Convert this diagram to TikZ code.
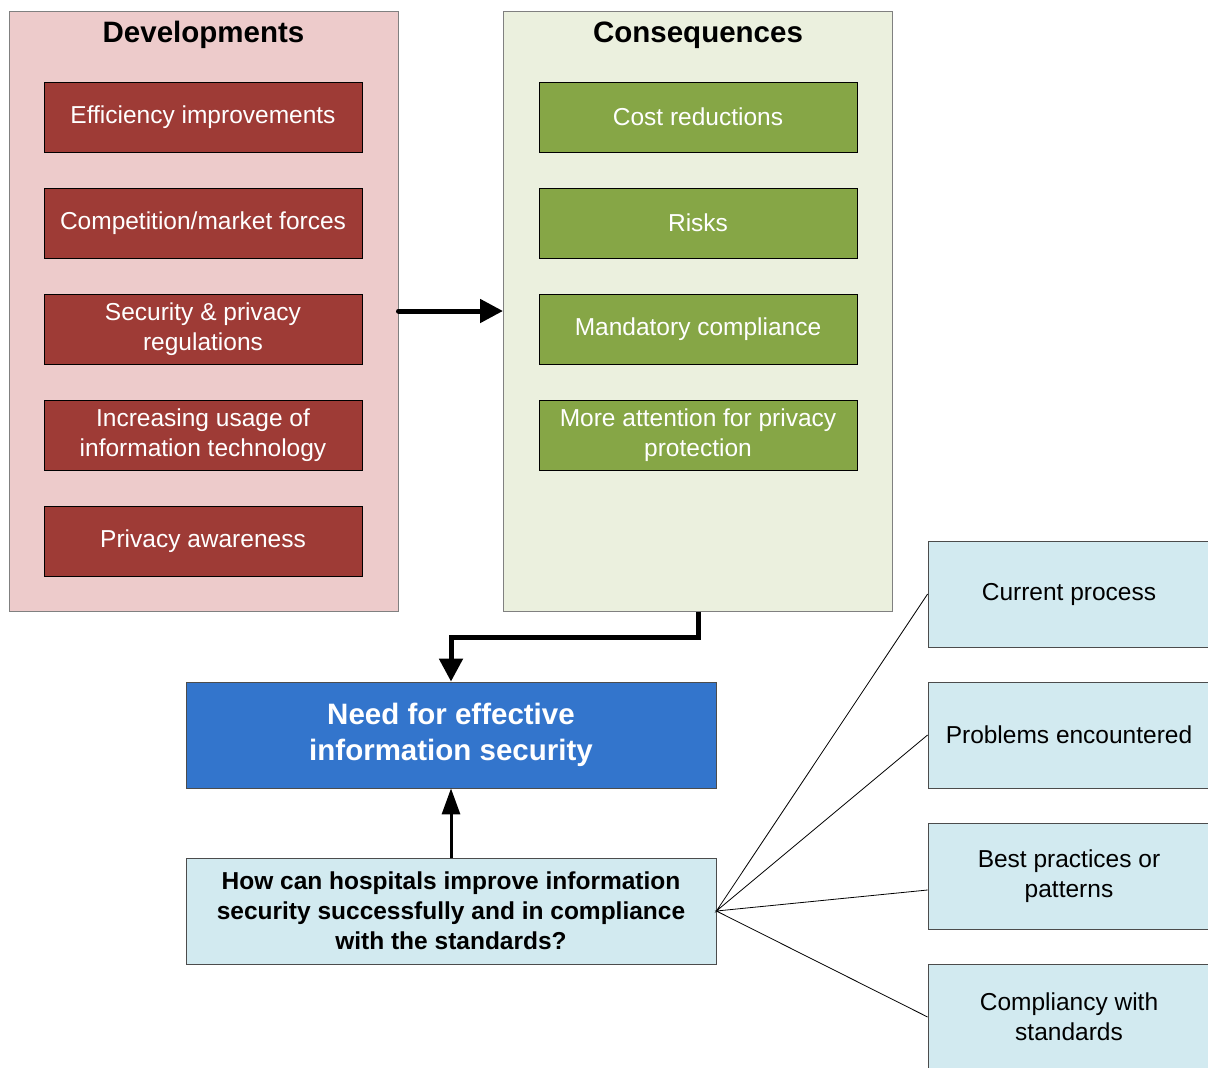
\documentclass[tikz,border=0pt]{standalone}
\usepackage{fontspec}
\setmainfont{Liberation Sans}
\usetikzlibrary{arrows.meta}

\definecolor{panelred}{RGB}{237,203,203}
\definecolor{boxred}{RGB}{158,59,54}
\definecolor{panelgreen}{RGB}{235,240,222}
\definecolor{boxgreen}{RGB}{134,166,70}
\definecolor{boxblue}{RGB}{51,117,204}
\definecolor{lightblue}{RGB}{210,234,240}

\begin{document}
\begin{tikzpicture}[x=1pt,y=-1pt,
  panel/.style={draw=black!50,line width=1pt,minimum width=389pt,minimum height=600pt,inner sep=0pt},
  ptitle/.style={font=\fontsize{29.5}{34}\selectfont\bfseries},
  devbox/.style={draw=black,line width=0.8pt,fill=boxred,text=white,minimum width=318pt,minimum height=70pt,align=center,inner sep=0pt,font=\fontsize{24.5}{30}\selectfont},
  conbox/.style={devbox,fill=boxgreen},
  topic/.style={draw=black!70,line width=0.8pt,fill=lightblue,minimum width=282pt,minimum height=106pt,align=center,inner sep=0pt,font=\fontsize{24.5}{30}\selectfont},
  bigarrow/.style={line width=5pt,-{Triangle[length=23pt,width=23pt]}}]
\clip (0,0) rectangle (1208,1068);

% panels
\node[panel,fill=panelred] (dev) at (203.5,311) {};
\node[panel,fill=panelgreen] (con) at (698,311) {};
\node[ptitle] (devt) at (203.5,35) {Developments};
\node[ptitle] (cont) at (698,35) {Consequences};

% developments
\node[devbox] (d1) at (203,117) {Efficiency improvements};
\node[devbox] (d2) at (203,223) {Competition/market forces};
\node[devbox] (d3) at (203,329) {Security \& privacy\\regulations};
\node[devbox] (d4) at (203,435) {Increasing usage of\\information technology};
\node[devbox] (d5) at (203,541) {Privacy awareness};

% consequences
\node[conbox] (c1) at (698,117) {Cost reductions};
\node[conbox] (c2) at (698,223) {Risks};
\node[conbox] (c3) at (698,329) {Mandatory compliance};
\node[conbox] (c4) at (698,435) {More attention for privacy\\protection};

% need and question
\node[draw=black!70,line width=0.8pt,fill=boxblue,text=white,minimum width=530pt,minimum height=106pt,align=center,inner sep=0pt,font=\fontsize{29.5}{36}\selectfont\bfseries] (need) at (451,735) {Need for effective\\information security};
\node[draw=black!70,line width=0.8pt,fill=lightblue,minimum width=530pt,minimum height=106pt,align=center,inner sep=0pt,font=\fontsize{24.5}{30}\selectfont\bfseries] (q) at (451,911) {How can hospitals improve information\\security successfully and in compliance\\with the standards?};

% topics
\node[topic] (t1) at (1069,594) {Current process};
\node[topic] (t2) at (1069,735) {Problems encountered};
\node[topic] (t3) at (1069,876) {Best practices or\\patterns};
\node[topic] (t4) at (1069,1017) {Compliancy with\\standards};

\draw[bigarrow,line cap=round] (dev.east) -- (con.west);
\draw[bigarrow,line join=miter] (con.south) -- ++(0,26) -| (need.north);
\draw[line width=3pt,-{Triangle[length=26pt,width=18pt]}] (q.north) -- (need.south);

\draw[line width=0.8pt] (t1.west) -- (q.east) -- (t2.west);
\draw[line width=0.8pt] ([yshift=-14pt]t3.west) -- (q.east) -- (t4.west);
\end{tikzpicture}
\end{document}
